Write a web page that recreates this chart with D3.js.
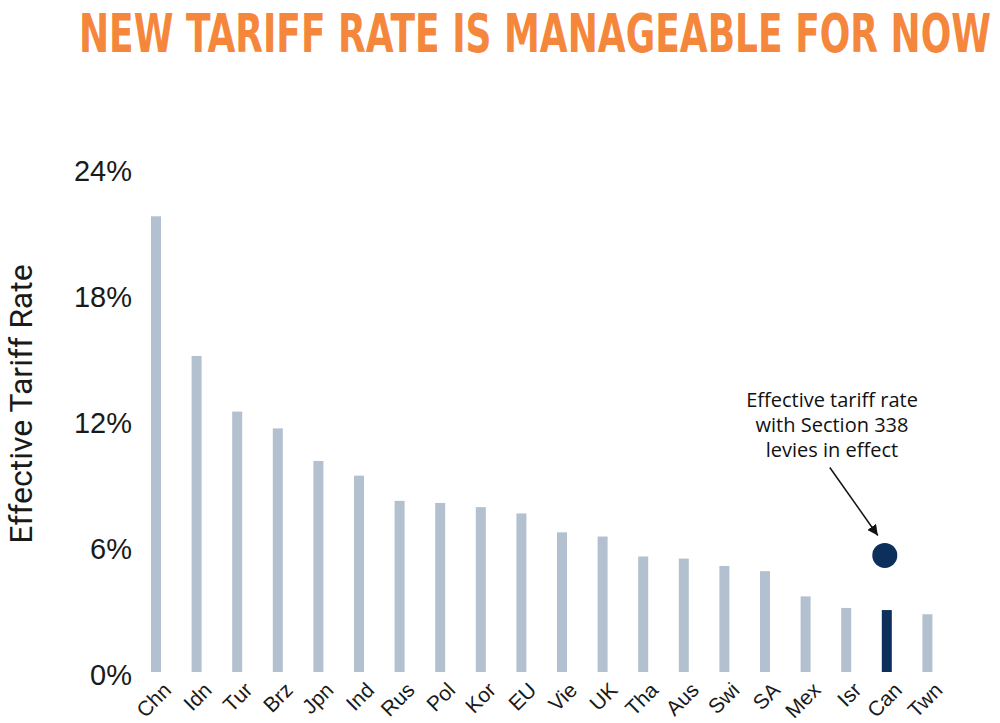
<!DOCTYPE html>
<html>
<head>
<meta charset="utf-8">
<script src="https://cdn.jsdelivr.net/npm/d3@7"></script>
<style>
  body { margin: 0; background: #fff; }
  svg { display: block; }
</style>
</head>
<body>
<div id="chart"></div>
<script>
// data
var countries = ["Chn", "Idn", "Tur", "Brz", "Jpn", "Ind", "Rus", "Pol", "Kor", "EU",
                 "Vie", "UK", "Tha", "Aus", "Swi", "SA", "Mex", "Isr", "Can", "Twn"];
var rates = [21.7, 15.05, 12.4, 11.6, 10.05, 9.35, 8.15, 8.05, 7.85, 7.55,
             6.65, 6.45, 5.5, 5.4, 5.05, 4.8, 3.6, 3.05, 2.95, 2.75];
var highlight = "Can";
var section338 = [{ country: "Can", rate: 5.55 }];
var yTicks = [0, 6, 12, 18, 24];
var noteLines = ["Effective tariff rate", "with Section 338", "levies in effect"];

var W = 1000, H = 723;
var BAR_W = 10;

var svg = d3.select('#chart').append('svg')
  .attr('width', W)
  .attr('height', H);

// title: condensed look, stretched vertically
svg.append('text')
  .attr('transform', 'translate(79,52) scale(1,1.35)')
  .attr('textLength', 912)
  .attr('lengthAdjust', 'spacingAndGlyphs')
  .style('font-family', '"DejaVu Sans Condensed", "DejaVu Sans"')
  .style('font-weight', 'bold')
  .style('font-size', '40px')
  .style('fill', '#F5873D')
  .text('NEW TARIFF RATE IS MANAGEABLE FOR NOW');

x = d3.scaleBand()
  .domain(countries)
  .range([151, 932.4])
  .paddingInner(1 - BAR_W / 40.6)
  .paddingOuter(0);

y = d3.scaleLinear().domain([0, 24]).range([672, 168]);

// y tick labels (no axis line in the original)
svg.append('g').selectAll('text')
  .data(yTicks)
  .enter().append('text')
    .attr('x', 132)
    .attr('y', d => y(d) + 3)
    .attr('dy', '0.35em')
    .attr('text-anchor', 'end')
    .style('font-family', '"Liberation Sans", Arial, sans-serif')
    .style('font-size', '29px')
    .style('fill', '#1a1a1a')
    .text(d => d + '%');

// y title
svg.append('text')
  .attr('transform', 'translate(32,404) rotate(-90)')
  .attr('text-anchor', 'middle')
  .style('font-family', 'Roboto, sans-serif')
  .style('font-size', '32px')
  .style('fill', '#1a1a1a')
  .text('Effective Tariff Rate');

// bars
svg.append('g').selectAll('rect')
  .data(countries)
  .enter().append('rect')
    .attr('x', d => x(d))
    .attr('width', x.bandwidth())
    .attr('y', (d, i) => y(rates[i]))
    .attr('height', (d, i) => y(0) - y(rates[i]))
    .attr('fill', d => d === highlight ? '#0C2F5C' : '#B3C0CF');

// category labels
svg.append('g').selectAll('text')
  .data(countries)
  .enter().append('text')
    .attr('transform', d => 'translate(' + (x(d) + x.bandwidth() / 2 + 6) + ',' + 681 + ') rotate(-45)')
    .attr('text-anchor', 'end')
    .attr('dy', '0.7em')
    .style('font-family', '"Liberation Sans", Arial, sans-serif')
    .style('font-size', '21px')
    .style('fill', '#1a1a1a')
    .text(d => d);

// section 338 dot
svg.append('g').selectAll('circle')
  .data(section338)
  .enter().append('circle')
    .attr('cx', d => x(d.country) + x.bandwidth() / 2 - 2)
    .attr('cy', d => y(d.rate))
    .attr('r', 12.5)
    .attr('fill', '#0C2F5C');

// annotation
svg.append('defs').append('marker')
  .attr('id', 'arrow')
  .attr('viewBox', '0 0 10 10')
  .attr('refX', 10).attr('refY', 5)
  .attr('markerWidth', 7).attr('markerHeight', 7)
  .attr('orient', 'auto')
  .append('path')
    .attr('d', 'M0,0 L10,5 L0,10 z')
    .attr('fill', '#111');

var dot = section338[0];
var dotX = x(dot.country) + x.bandwidth() / 2 - 2, dotY = y(dot.rate);
svg.append('line')
  .attr('x1', dotX - 55).attr('y1', dotY - 88)
  .attr('x2', dotX - 7).attr('y2', dotY - 20)
  .attr('stroke', '#111')
  .attr('stroke-width', 1.5)
  .attr('marker-end', 'url(#arrow)');

svg.append('g').selectAll('text')
  .data(noteLines)
  .enter().append('text')
    .attr('x', 832)
    .attr('y', (d, i) => 407 + i * 25)
    .attr('text-anchor', 'middle')
    .style('font-family', '"Open Sans", sans-serif')
    .style('font-size', '20px')
    .style('fill', '#111')
    .text(d => d);
</script>
</body>
</html>
